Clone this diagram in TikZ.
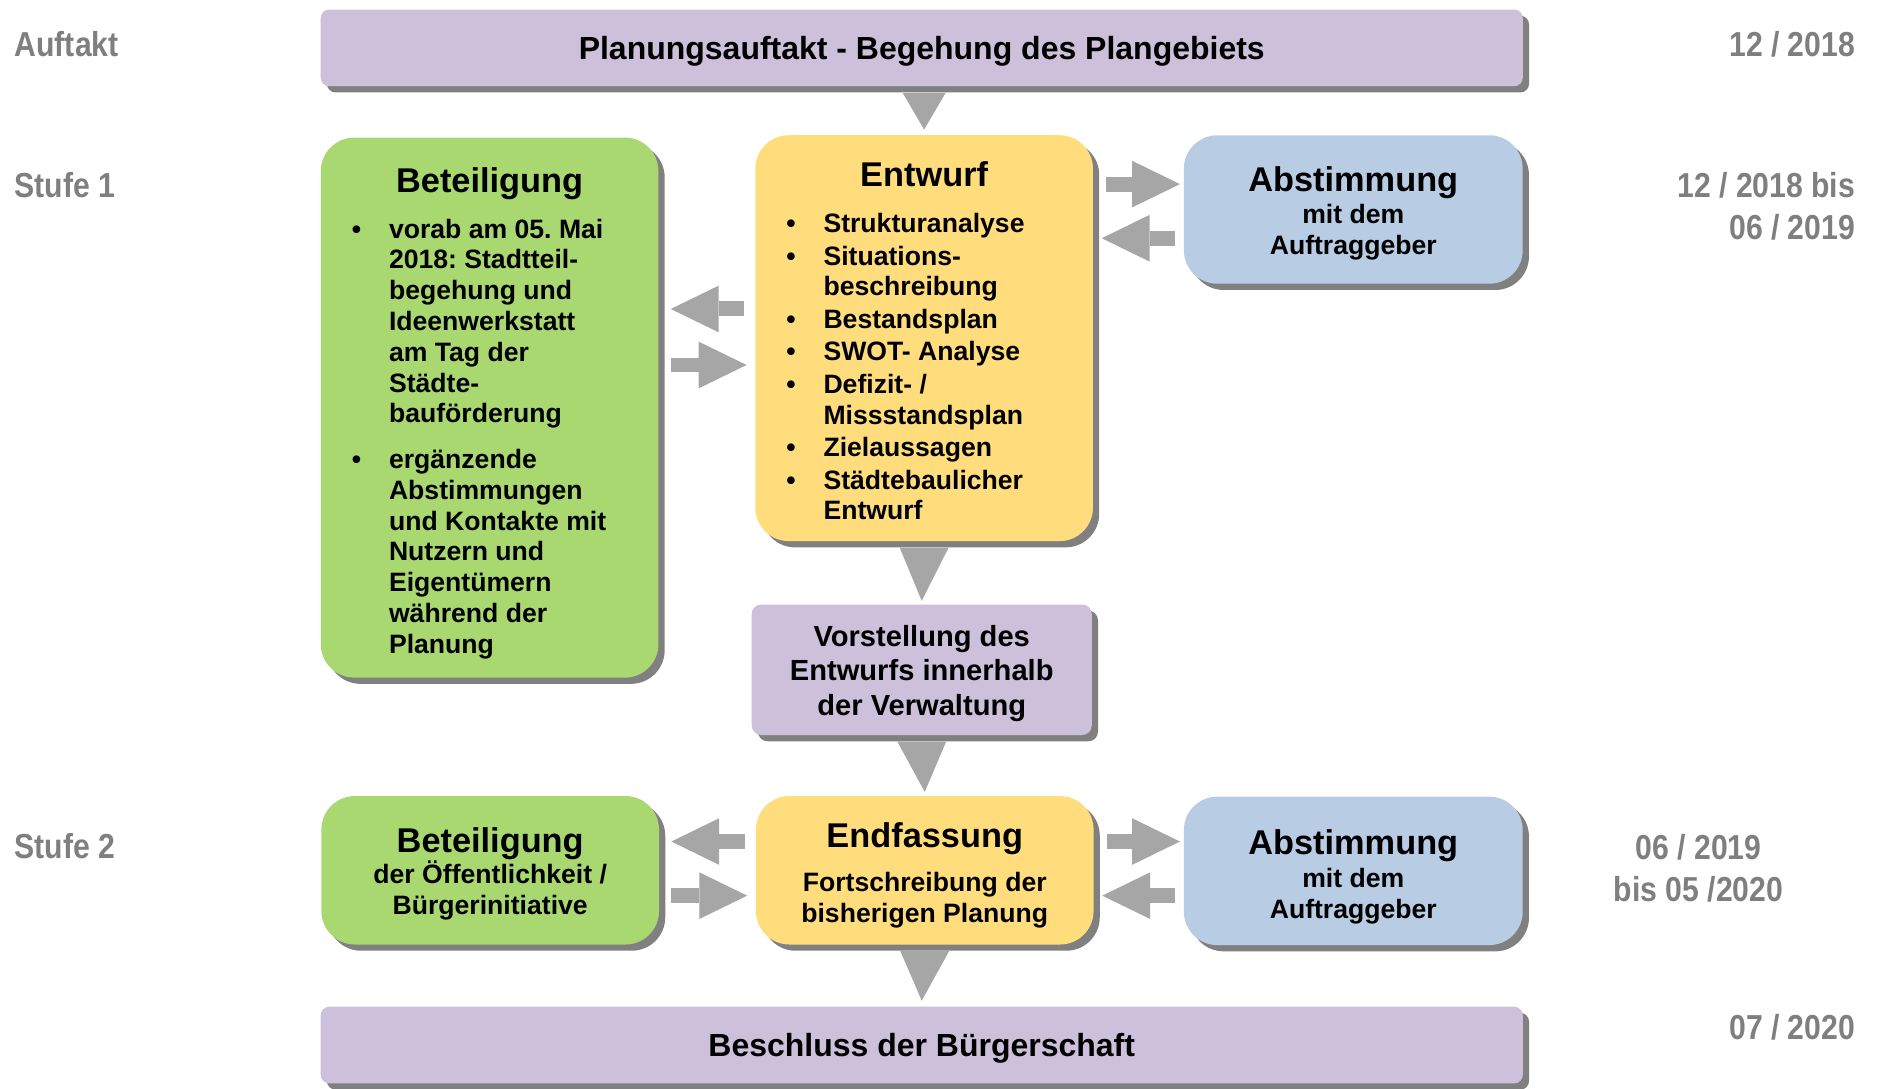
\documentclass[tikz,border=0pt]{standalone}
\usepackage{fontspec}
\setmainfont{Liberation Sans}
\newfontfamily\narrowfont[FakeStretch=0.87]{Liberation Sans}
\usepackage{tikz}
\usetikzlibrary{shadows,arrows.meta}
\frenchspacing

\definecolor{lilac}{HTML}{CCC0DA}
\definecolor{leafgreen}{HTML}{A9D770}
\definecolor{sunyellow}{HTML}{FFDD7D}
\definecolor{skyblue}{HTML}{B8CCE4}
\definecolor{arrowgray}{HTML}{A6A6A6}
\definecolor{shadowgray}{HTML}{808080}
\definecolor{labelgray}{HTML}{7F7F7F}

\newcommand{\bodyfont}{\bfseries\fontsize{15.8}{18.3}\selectfont}
\newcommand{\headfont}{\bfseries\fontsize{20.4}{24}\selectfont}
\newcommand{\barfont}{\bfseries\fontsize{19}{22}\selectfont}
\newcommand{\talkfont}{\bfseries\fontsize{17.3}{20.6}\selectfont}
\newcommand{\stagefont}{\narrowfont\bfseries\fontsize{20.6}{25}\selectfont}
\newcommand{\topgap}[1]{\rule{0pt}{#1}} % pushes the text block down

\tikzset{
	box/.style      = {inner sep=0pt, align=center, font=\bodyfont,
		drop shadow = {shadow xshift=0.13cm, shadow yshift=-0.13cm,
			opacity=1, fill=shadowgray}},
	bar/.style      = {box, fill=lilac, rounded corners=0.18cm,
		minimum width=25.1cm, minimum height=1.6cm, font=\barfont},
	talkbox/.style  = {box, fill=lilac, rounded corners=0.2cm,
		minimum width=7.1cm, minimum height=2.725cm, font=\talkfont},
	betbox/.style   = {box, fill=leafgreen, rounded corners=0.7cm,
		minimum width=7.05cm},
	draftbox/.style = {box, fill=sunyellow, rounded corners=0.7cm,
		minimum width=7.05cm},
	votebox/.style  = {box, fill=skyblue, rounded corners=0.7cm,
		minimum width=7.075cm, minimum height=3.1cm},
	stage/.style    = {inner sep=0pt, text=labelgray, font=\stagefont}, % left column
	period/.style   = {inner sep=0pt, text=labelgray, font=\stagefont}, % right column
	flow/.style     = {draw=arrowgray, line width=0.3125cm,
		-{Triangle[length=1cm, width=0.975cm, line width=0pt]}},
	pointer/.style  = {fill=arrowgray}
}

\begin{document}
\begin{tikzpicture}[x=0.025cm, y=-0.025cm]
	\useasboundingbox (0,0) rectangle (1568,909);
	\draw
	
	node at (770,40) [bar] (auftakt) {\topgap{18.2pt}Planungsauftakt - Begehung des Plangebiets}
	node at (409,340.5) [betbox, minimum height=11.275cm] (betA) {\topgap{23.4pt}{\headfont Beteiligung}\\[9.1pt]
		\begin{tabular}[t]{@{}p{0.775cm}@{}p{4.975cm}@{}}
			• & vorab am 05. Mai\\
			  & 2018: Stadtteil-\\
			  & begehung und\\
			  & Ideenwerkstatt\\
			  & am Tag der\\
			  & Städte-\\
			  & bauförderung\\[8.75pt]
			• & ergänzende\\
			  & Abstimmungen\\
			  & und Kontakte mit\\
			  & Nutzern und\\
			  & Eigentümern\\
			  & während der\\
			  & Planung
		\end{tabular}}
	node at (772,282.5) [draftbox, minimum height=8.475cm] (entwurf) {\topgap{23.4pt}{\headfont Entwurf}\\[9.1pt]
		\begin{tabular}[t]{@{}p{0.775cm}@{}p{4.975cm}@{}}
			• & Strukturanalyse\\[1pt]
			• & Situations-\\
			  & beschreibung\\[1pt]
			• & Bestandsplan\\[1pt]
			• & SWOT- Analyse\\[1pt]
			• & Defizit- /\\
			  & Missstandsplan\\[1pt]
			• & Zielaussagen\\[1pt]
			• & Städtebaulicher\\
			  & Entwurf
		\end{tabular}}
	node at (1130.5,175) [votebox] (abstA) {\topgap{19.2pt}{\headfont Abstimmung}\\[1.2pt] mit dem\\ Auftraggeber}
	node at (770,559.5) [talkbox] (vorstellung) {\topgap{16.9pt}Vorstellung des\\ Entwurfs innerhalb\\ der Verwaltung}
	node at (409.5,727) [betbox, minimum height=3.1cm] (betB) {\topgap{19.2pt}{\headfont Beteiligung}\\ der Öffentlichkeit /\\ Bürgerinitiative}
	node at (772.5,727) [draftbox, minimum height=3.1cm] (endfassung) {\topgap{20.6pt}{\headfont Endfassung}\\[8pt] Fortschreibung der\\ bisherigen Planung}
	node at (1130.5,727.5) [votebox] (abstB) {\topgap{22pt}{\headfont Abstimmung}\\[1.2pt] mit dem\\ Auftraggeber}
	node at (770,873) [bar] (beschluss) {\topgap{18.2pt}Beschluss der Bürgerschaft};
	
	% time line
	\draw
	node at (12,37) [stage, anchor=west] (lauftakt) {Auftakt}
	node at (12,155) [stage, anchor=west] (lstufeA) {Stufe 1}
	node at (12,707) [stage, anchor=west] (lstufeB) {Stufe 2}
	node at (1550,37) [period, anchor=east] (dauftakt) {12 / 2018}
	node at (1550,172.5) [period, anchor=east, align=right] (dstufeA) {12 / 2018 bis\\ 06 / 2019}
	node at (1419,725) [period, align=center] (dstufeB) {06 / 2019\\ bis 05 /2020}
	node at (1550,858) [period, anchor=east] (dbeschluss) {07 / 2020};
	
	% downward wedges
	\fill[pointer] ([xshift=-0.45cm, yshift=-0.13cm]auftakt.south -| entwurf.north) -- ([xshift=0.45cm, yshift=-0.13cm]auftakt.south -| entwurf.north) -- ([yshift=0.11cm]entwurf.north) -- cycle;
	\fill[pointer] ([xshift=-0.51cm, yshift=-0.13cm]entwurf.south) -- ([xshift=0.51cm, yshift=-0.13cm]entwurf.south) -- ([yshift=0.07cm]vorstellung.north) -- cycle;
	\fill[pointer] ([xshift=-0.51cm, yshift=-0.13cm]vorstellung.south) -- ([xshift=0.51cm, yshift=-0.13cm]vorstellung.south) -- ([yshift=0.08cm]endfassung.north) -- cycle;
	\fill[pointer] ([xshift=-0.51cm, yshift=-0.13cm]endfassung.south) -- ([xshift=0.51cm, yshift=-0.13cm]endfassung.south) -- ([yshift=0.12cm]beschluss.north) -- cycle;
	
	% exchange arrows
	\draw[flow, shorten <=0.275cm, shorten >=0.075cm] ([yshift=0.53cm]abstA.west -| entwurf.east) -- ([yshift=0.53cm]abstA.west);
	\draw[flow, shorten <=0.175cm, shorten >=0.175cm] ([yshift=-0.6cm]abstA.west) -- ([yshift=-0.6cm]abstA.west -| entwurf.east);
	\draw[flow, shorten <=0.225cm, shorten >=0.25cm] ([yshift=0.61cm]entwurf.west) -- ([yshift=0.61cm]entwurf.west -| betA.east);
	\draw[flow, shorten <=0.25cm, shorten >=0.175cm] ([yshift=-0.56cm]entwurf.west -| betA.east) -- ([yshift=-0.56cm]entwurf.west);
	\draw[flow, shorten <=0.225cm, shorten >=0.25cm] ([yshift=0.6cm]endfassung.west) -- ([yshift=0.6cm]endfassung.west -| betB.east);
	\draw[flow, shorten <=0.25cm, shorten >=0.175cm] ([yshift=-0.53cm]endfassung.west -| betB.east) -- ([yshift=-0.53cm]endfassung.west);
	\draw[flow, shorten <=0.275cm, shorten >=0.075cm] ([yshift=0.6cm]endfassung.east) -- ([yshift=0.6cm]endfassung.east -| abstB.west);
	\draw[flow, shorten <=0.175cm, shorten >=0.175cm] ([yshift=-0.53cm]endfassung.east -| abstB.west) -- ([yshift=-0.53cm]endfassung.east);
\end{tikzpicture}
\end{document}
